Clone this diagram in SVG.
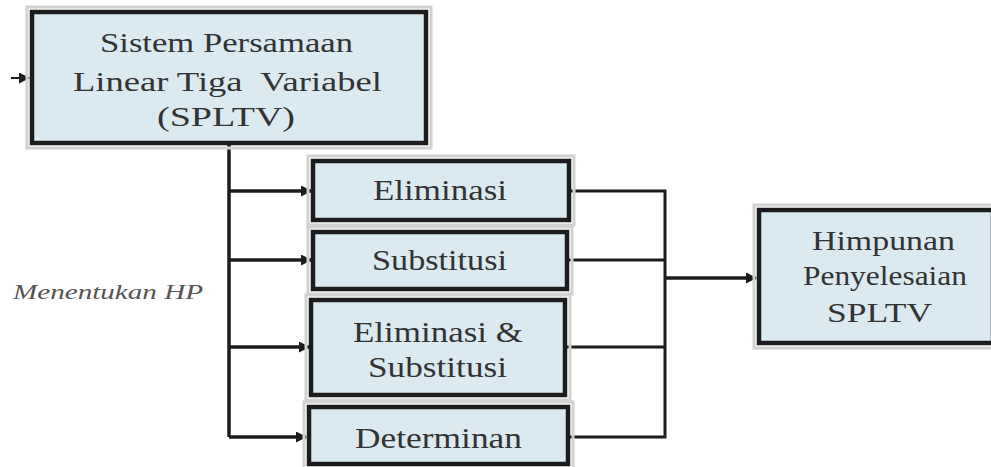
<svg xmlns="http://www.w3.org/2000/svg" width="991" height="467" viewBox="0 0 991 467">
<defs>
<marker id="ah" markerWidth="11" markerHeight="11" refX="10" refY="5.5" orient="auto" markerUnits="userSpaceOnUse">
<path d="M0,0 L11,5.5 L0,11 Z" fill="#1c1c1c"/>
</marker>
</defs>
<rect width="991" height="467" fill="#ffffff"/>
<g id="connectors" fill="none" stroke="#1c1c1c" stroke-width="3.5">
<line x1="11" y1="78" x2="29" y2="78" stroke-width="2" marker-end="url(#ah)"/>
<path d="M229,145 V437"/>
<line x1="229" y1="191" x2="311" y2="191" marker-end="url(#ah)"/>
<line x1="229" y1="260" x2="311" y2="260" marker-end="url(#ah)"/>
<line x1="229" y1="347" x2="309" y2="347" marker-end="url(#ah)"/>
<line x1="229" y1="437" x2="306" y2="437" marker-end="url(#ah)"/>
<path d="M568,191 H665 V437 H568" stroke-width="3"/>
<line x1="566" y1="260" x2="665" y2="260" stroke-width="3"/>
<line x1="565" y1="347" x2="665" y2="347" stroke-width="3"/>
<line x1="665" y1="278" x2="756" y2="278" marker-end="url(#ah)"/>
</g>
<g id="node-spltv">
<rect x="27" y="7" width="404" height="141" fill="none" stroke="#d2d2d2" stroke-width="3"/>
<rect x="32" y="12" width="394" height="131" fill="#dbeaf1" stroke="#1c1c1c" stroke-width="4.5"/>
<text font-family="Times New Roman" fill="#333333" font-size="28" x="100" y="52" textLength="253" lengthAdjust="spacingAndGlyphs">Sistem Persamaan</text>
<text font-family="Times New Roman" fill="#333333" font-size="28" x="73" y="91" textLength="309" lengthAdjust="spacingAndGlyphs">Linear Tiga&#160; Variabel</text>
<text font-family="Times New Roman" fill="#333333" font-size="28" x="157" y="126" textLength="138" lengthAdjust="spacingAndGlyphs">(SPLTV)</text>
</g>
<g id="node-eliminasi">
<rect x="308" y="156" width="266" height="69" fill="none" stroke="#d2d2d2" stroke-width="3"/>
<rect x="313" y="161" width="256" height="59" fill="#dbeaf1" stroke="#1c1c1c" stroke-width="4.5"/>
<text font-family="Times New Roman" fill="#333333" font-size="29" x="373" y="200" textLength="134" lengthAdjust="spacingAndGlyphs">Eliminasi</text>
</g>
<g id="node-substitusi">
<rect x="308" y="227" width="264" height="67" fill="none" stroke="#d2d2d2" stroke-width="3"/>
<rect x="313" y="232" width="254" height="57" fill="#dbeaf1" stroke="#1c1c1c" stroke-width="4.5"/>
<text font-family="Times New Roman" fill="#333333" font-size="29" x="372" y="270" textLength="135" lengthAdjust="spacingAndGlyphs">Substitusi</text>
</g>
<g id="node-elimsubs">
<rect x="306" y="295" width="264" height="105" fill="none" stroke="#d2d2d2" stroke-width="3"/>
<rect x="311" y="300" width="254" height="95" fill="#dbeaf1" stroke="#1c1c1c" stroke-width="4.5"/>
<text font-family="Times New Roman" fill="#333333" font-size="29" x="353" y="342" textLength="170" lengthAdjust="spacingAndGlyphs">Eliminasi &amp;</text>
<text font-family="Times New Roman" fill="#333333" font-size="29" x="368" y="377" textLength="139" lengthAdjust="spacingAndGlyphs">Substitusi</text>
</g>
<g id="node-determinan">
<rect x="304" y="402" width="269" height="67" fill="none" stroke="#d2d2d2" stroke-width="3"/>
<rect x="309" y="407" width="259" height="57" fill="#dbeaf1" stroke="#1c1c1c" stroke-width="4.5"/>
<text font-family="Times New Roman" fill="#333333" font-size="29" x="355" y="448" textLength="167" lengthAdjust="spacingAndGlyphs">Determinan</text>
</g>
<g id="node-himpunan">
<rect x="754" y="205" width="244" height="143" fill="none" stroke="#d2d2d2" stroke-width="3"/>
<rect x="759" y="210" width="234" height="133" fill="#dbeaf1" stroke="#1c1c1c" stroke-width="4.5"/>
<text font-family="Times New Roman" fill="#333333" font-size="28" x="812" y="250" textLength="143" lengthAdjust="spacingAndGlyphs">Himpunan</text>
<text font-family="Times New Roman" fill="#333333" font-size="28" x="803" y="285" textLength="164" lengthAdjust="spacingAndGlyphs">Penyelesaian</text>
<text font-family="Times New Roman" fill="#333333" font-size="28" x="827" y="322" textLength="105" lengthAdjust="spacingAndGlyphs">SPLTV</text>
</g>
<g id="label-hp">
<text font-family="Times New Roman" x="13" y="299" font-style="italic" font-size="20" fill="#555555" textLength="190" lengthAdjust="spacingAndGlyphs">Menentukan HP</text>
</g>
</svg>
